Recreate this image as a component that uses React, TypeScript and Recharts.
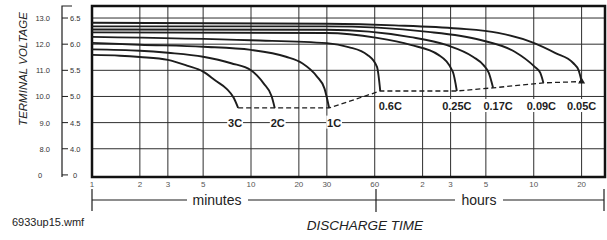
import React from 'react';
import { ComposedChart, Line, Scatter, XAxis, YAxis, CartesianGrid, ReferenceArea } from 'recharts';

// Discharge curves of a 12V (6V) lead-acid battery: [minutes, volts]
const rates = ['3C', '2C', '1C', '0.6C', '0.25C', '0.17C', '0.09C', '0.05C'];

const curve3C = [[1, 11.59], [1.5, 11.56], [2, 11.51], [3, 11.4], [4, 11.17], [5, 10.95], [6, 10.6], [7, 10.3], [7.8, 9.94], [8.3, 9.56]];
const curve2C = [[1, 11.8], [2, 11.75], [3, 11.67], [5, 11.52], [7.5, 11.27], [10, 11.0], [12, 10.5], [13.5, 10.0], [14.1, 9.56]];
const curve1C = [[1, 12.05], [2, 11.98], [5, 11.9], [10, 11.78], [16.6, 11.52], [21, 11.27], [26, 10.76], [29, 10.3], [31, 9.56]];
const curve06C = [[1, 12.28], [10, 12.15], [30, 12.04], [41, 11.89], [54, 11.59], [62, 11.13], [65, 10.21]];
const curve025C = [[1, 12.45], [30, 12.43], [62, 12.24], [101, 11.97], [151, 11.59], [186, 10.94], [197, 10.21]];
const curve017C = [[1, 12.56], [30, 12.55], [101, 12.27], [169, 11.97], [250, 11.51], [290, 11.2], [313, 10.9], [333, 10.33]];
const curve009C = [[1, 12.68], [30, 12.68], [130, 12.47], [278, 12.16], [453, 11.72], [609, 11.13], [660, 10.9], [690, 10.52]];
const curve005C = [[1, 12.82], [30, 12.78], [80, 12.72], [200, 12.6], [358, 12.43], [582, 12.08], [822, 11.66], [1062, 11.28], [1150, 11.0], [1200, 10.57]];

const curves = [curve3C, curve2C, curve1C, curve06C, curve025C, curve017C, curve009C, curve005C];

// x axis: minutes 1..60, then hours 2..20
const xTicks = [1, 2, 3, 5, 10, 20, 30, 60, 120, 180, 300, 600, 1200];
const xTickLabels = ['1', '2', '3', '5', '10', '20', '30', '60', '2', '3', '5', '10', '20'];

// y axis: 12V scale and matching 6V scale, bottom row is the broken "0"
const yTicks = [7, 8, 9, 10, 11, 12, 13];
const y12Labels = ['0', '8.0', '9.0', '10.0', '11.0', '12.0', '13.0'];
const y6Labels = ['0', '4.0', '4.5', '5.0', '5.5', '6.0', '6.5'];

const X_MAX = 1684;
const Y_MIN = 6.92;
const Y_MAX = 13.46;
const FONT = '"Liberation Sans", Arial, sans-serif';
const INK = '#1d1d1d';

// pixel nudges for the rate labels
const labelShift = [-3, 3, 5, 10, 0, 5, -2, 0];

const toPts = (c: number[][]) => c.map(([t, v]) => ({ t, v }));

const VoltTick = (props: any) => {
  const { y, payload } = props;
  const i = yTicks.indexOf(payload.value);
  const zero = payload.value === 7;
  return (
    <g fontFamily={FONT} fontSize={7.5} fill="#333">
      <text x={zero ? 38 : 50} y={y} dy={3} textAnchor={zero ? 'start' : 'end'}>{y12Labels[i]}</text>
      <line x1={62} x2={68} y1={y} y2={y} stroke={INK} strokeWidth={1} />
      <text x={zero ? 73 : 70} y={y} dy={3} textAnchor="start">{y6Labels[i]}</text>
    </g>
  );
};

const RateLabel = (props: any) => {
  const { cx, cy, payload, index } = props;
  const x = cx + labelShift[index];
  const w = payload.name.length * 6.4 + 3;
  return (
    <g>
      <rect x={x - w / 2} y={cy - 7} width={w} height={13} fill="#fff" />
      <text x={x} y={cy} dy={4} textAnchor="middle" fontSize={11} fontWeight="bold" fontFamily={FONT} fill={INK}>
        {payload.name}
      </text>
    </g>
  );
};

// small end-of-discharge marker on the 0.05C curve
const EndMark = (props: any) => {
  const { cx, cy } = props;
  return <path d={`M${cx},${cy - 4} L${cx + 3.5},${cy + 2} L${cx - 3.5},${cy + 2} Z`} fill={INK} />;
};

export default function App() {
  const ends = curves.map((c, i) => ({ t: c[c.length - 1][0], v: c[c.length - 1][1], name: rates[i] }));
  const labels = ends.map((e, i) => ({ t: e.t, v: i < 3 ? 9.0 : 9.635, name: e.name }));
  const lastMark = [ends[ends.length - 1]];

  return (
    <div style={{ position: 'absolute', left: 0, top: 0, width: 607, height: 240, background: '#fff', fontFamily: FONT }}>
      <ComposedChart width={607} height={240} margin={{ top: 6, right: 2, bottom: 0, left: 0 }}>
        <CartesianGrid
          stroke="#2e2e2e"
          strokeWidth={1}
          horizontalValues={[8, 9, 10, 11, 12, 13]}
          verticalValues={xTicks.slice(1)}
        />
        <XAxis
          dataKey="t"
          type="number"
          scale="log"
          domain={[1, X_MAX]}
          allowDataOverflow
          ticks={xTicks}
          interval={0}
          tickFormatter={(v: number) => xTickLabels[xTicks.indexOf(v)]}
          tick={{ fontSize: 8, fill: '#555', fontFamily: FONT }}
          tickLine={false}
          axisLine={false}
          tickSize={0}
          tickMargin={4}
          height={63}
        />
        <YAxis
          dataKey="v"
          type="number"
          domain={[Y_MIN, Y_MAX]}
          allowDataOverflow
          ticks={yTicks}
          interval={0}
          tick={<VoltTick />}
          tickLine={false}
          axisLine={false}
          width={92}
        />
        {curves.map((c, i) => (
          <Line
            key={rates[i]}
            data={toPts(c)}
            dataKey="v"
            type="monotone"
            stroke={INK}
            strokeWidth={1.9}
            dot={false}
            isAnimationActive={false}
          />
        ))}
        <Line
          data={ends}
          dataKey="v"
          type="linear"
          stroke={INK}
          strokeWidth={1.3}
          strokeDasharray="5 3"
          dot={false}
          isAnimationActive={false}
        />
        <Scatter data={lastMark} dataKey="v" shape={<EndMark />} isAnimationActive={false} />
        <Scatter data={labels} dataKey="v" shape={<RateLabel />} isAnimationActive={false} />
        <ReferenceArea x1={1} x2={X_MAX} y1={Y_MIN} y2={Y_MAX} fill="none" stroke="#111" strokeWidth={2.5} ifOverflow="visible" />
      </ComposedChart>
      <svg width={607} height={240} style={{ position: 'absolute', left: 0, top: 0, pointerEvents: 'none' }}>
        <g stroke={INK} strokeWidth={1.2} fill="none">
          <polyline points="72,6 62,6 62,177" />
          <line x1={92} x2={92} y1={189} y2={211} />
          <line x1={92} x2={187} y1={200} y2={200} />
          <line x1={248} x2={455} y1={200} y2={200} />
          <line x1={376} x2={376} y1={189} y2={212} />
          <line x1={503} x2={604} y1={200} y2={200} />
          <line x1={604} x2={604} y1={189} y2={211} />
        </g>
        <g fontFamily={FONT} fill="#222">
          <text x={217} y={205} fontSize={14} textAnchor="middle">minutes</text>
          <text x={479} y={205} fontSize={14} textAnchor="middle">hours</text>
          <text x={365} y={230} fontSize={13.5} fontStyle="italic" textAnchor="middle">DISCHARGE TIME</text>
          <text x={12} y={226} fontSize={11}>6933up15.wmf</text>
          <text x={0} y={0} fontSize={11.5} fontStyle="italic" textAnchor="middle" transform="translate(27,69) rotate(-90)">
            TERMINAL VOLTAGE
          </text>
        </g>
      </svg>
    </div>
  );
}
